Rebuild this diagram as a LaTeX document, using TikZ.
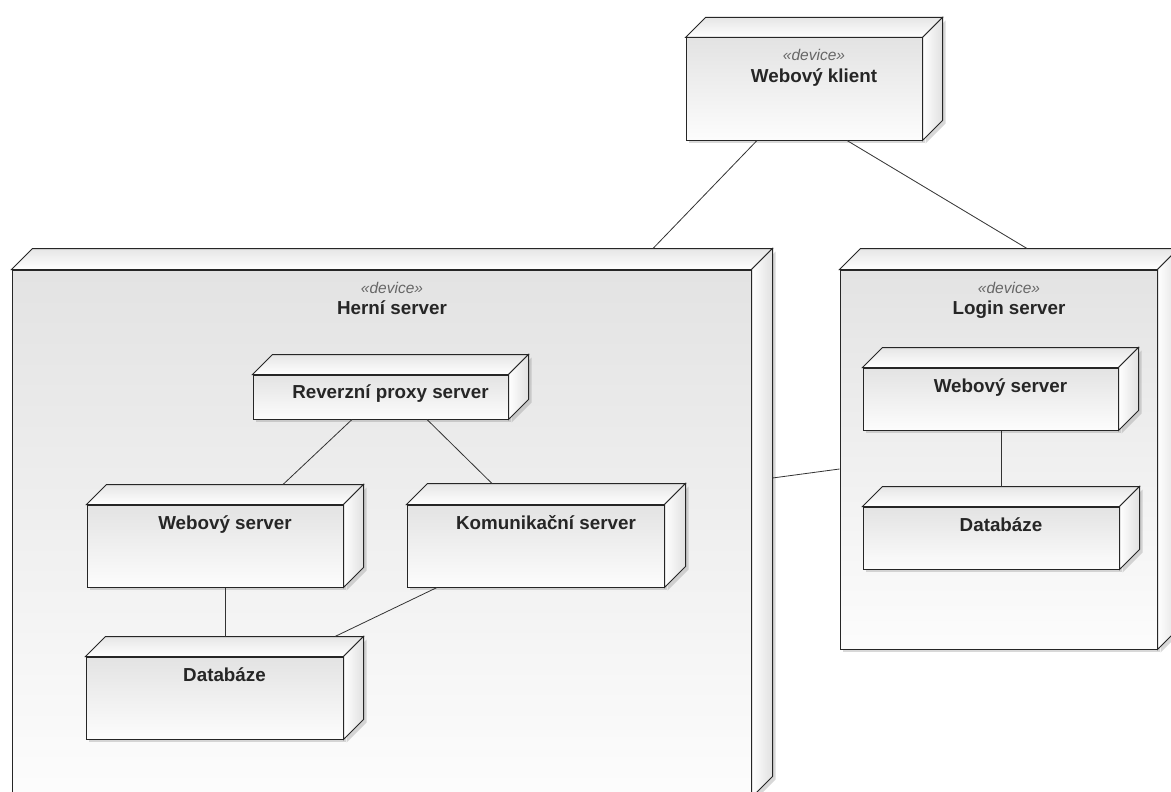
\documentclass[tikz,border=0pt]{standalone}
\usepackage{fontspec}
\setmainfont{Liberation Sans}
\usetikzlibrary{shadows}

\tikzset{
  box/.style={draw=black!85, line width=1pt, inner sep=0pt,
    top color=black!11, bottom color=black!1,
    drop shadow={opacity=.3, shadow xshift=3pt, shadow yshift=-3pt}},
  topface/.style={draw=black!85, line width=1pt, top color=black!10, bottom color=white},
  sideface/.style={draw=black!85, line width=1pt, left color=white, right color=black!12,
    drop shadow={opacity=.3, shadow xshift=3pt, shadow yshift=-3pt}},
  conn/.style={draw=black!80, line width=.8pt},
  nm/.style={font=\bfseries\fontsize{18.8}{21}\selectfont, text=black!85, inner sep=0pt},
  stereo/.style={font=\itshape\fontsize{15.5}{18}\selectfont, text=black!60, inner sep=0pt}
}

% top and side face of a device box
\newcommand{\boxfaces}[2]{%
  \draw[topface] (#1.north west) -- ++(#2pt,#2pt) -- ([shift={(#2pt,#2pt)}]#1.north east) -- (#1.north east) -- cycle;
  \draw[sideface] (#1.north east) -- ++(#2pt,#2pt) -- ([shift={(#2pt,#2pt)}]#1.south east) -- (#1.south east) -- cycle;
}

\begin{document}
\begin{tikzpicture}[x=1pt, y=-1pt]
    \useasboundingbox (0,0) rectangle (1171,792);
    \clip (0,0) rectangle (1171,792);
    \fill[white] (0,0) rectangle (1171,792);

    % Webovy klient
    \node[box, minimum width=236pt, minimum height=102pt] (klient) at (804,89) {};
    \boxfaces{klient}{20}
    \node[stereo, anchor=base] (klientst) at ([shift={(10pt,-23.5pt)}]klient.north) {«device»};
    \node[nm, anchor=base] (klienttxt) at ([shift={(10pt,-45.5pt)}]klient.north) {Webový klient};

    % Herni server
    \node[box, minimum width=739pt, minimum height=527pt] (herni) at (381.5,533.5) {};
    \boxfaces{herni}{21}
    \node[stereo, anchor=base] (hernist) at ([shift={(10.5pt,-23.5pt)}]herni.north) {«device»};
    \node[nm, anchor=base] (hernitxt) at ([shift={(10.5pt,-44.5pt)}]herni.north) {Herní server};

    % Login server
    \node[box, minimum width=317pt, minimum height=379pt] (login) at (998.5,459.5) {};
    \boxfaces{login}{21}
    \node[stereo, anchor=base] (loginst) at ([shift={(10.5pt,-23.5pt)}]login.north) {«device»};
    \node[nm, anchor=base] (logintxt) at ([shift={(10.5pt,-44.5pt)}]login.north) {Login server};

    % inside Herni server
    \node[box, minimum width=255pt, minimum height=44pt] (proxy) at (380.5,397) {};
    \boxfaces{proxy}{20}
    \node[nm, anchor=base] (proxytxt) at ([shift={(10pt,-24pt)}]proxy.north) {Reverzní proxy server};

    \node[box, minimum width=256pt, minimum height=82pt] (webH) at (215,546) {};
    \boxfaces{webH}{20}
    \node[nm, anchor=base] (webHtxt) at ([shift={(10pt,-24.5pt)}]webH.north) {Webový server};

    \node[box, minimum width=257pt, minimum height=82pt] (komu) at (535.5,546) {};
    \boxfaces{komu}{21}
    \node[nm, anchor=base] (komutxt) at ([shift={(10.5pt,-24.5pt)}]komu.north) {Komunikační server};

    \node[box, minimum width=257pt, minimum height=82pt] (dbH) at (214.5,698) {};
    \boxfaces{dbH}{20}
    \node[nm, anchor=base] (dbHtxt) at ([shift={(10pt,-24.5pt)}]dbH.north) {Databáze};

    % inside Login server
    \node[box, minimum width=255pt, minimum height=62pt] (webL) at (990.5,399) {};
    \boxfaces{webL}{20}
    \node[nm, anchor=base] (webLtxt) at ([shift={(10pt,-24.5pt)}]webL.north) {Webový server};

    \node[box, minimum width=256pt, minimum height=62pt] (dbL) at (991,538) {};
    \boxfaces{dbL}{20}
    \node[nm, anchor=base] (dbLtxt) at ([shift={(10pt,-24.5pt)}]dbL.north) {Databáze};

    % connections
    \draw[conn] ([xshift=-47pt]klient.south) -- ([shift={(271.5pt,21pt)}]herni.north);
    \draw[conn] ([xshift=43pt]klient.south) -- ([shift={(28.5pt,21pt)}]login.north);
    \draw[conn] ([shift={(21pt,55.5pt)}]herni.east) -- ([yshift=-9.5pt]login.west);
    \draw[conn] ([xshift=-28.5pt]proxy.south) -- ([shift={(68pt,20pt)}]webH.north);
    \draw[conn] ([xshift=46.5pt]proxy.south) -- ([shift={(-43.5pt,21pt)}]komu.north);
    \draw[conn] ([xshift=10pt]webH.south) -- ([shift={(10.5pt,20pt)}]dbH.north);
    \draw[conn] ([xshift=-98.5pt]komu.south) -- ([shift={(120.5pt,20pt)}]dbH.north);
    \draw[conn] ([xshift=10.5pt]webL.south) -- ([shift={(10pt,20pt)}]dbL.north);
\end{tikzpicture}
\end{document}
